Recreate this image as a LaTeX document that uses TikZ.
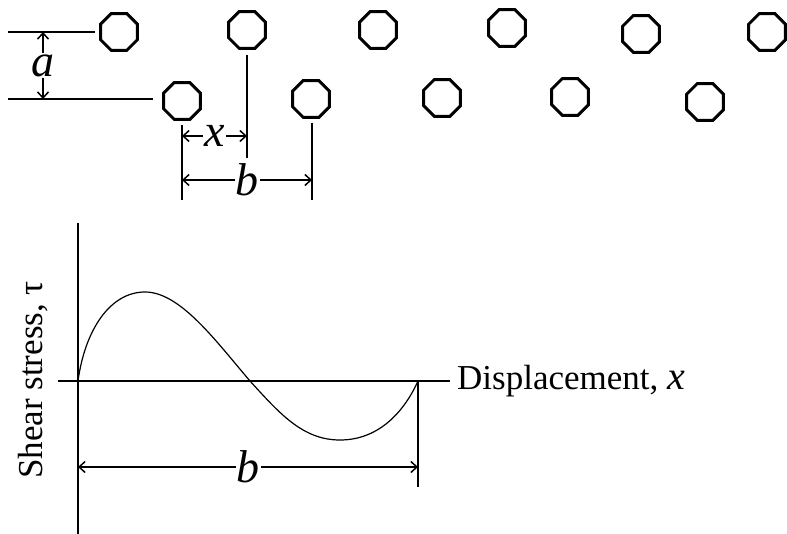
\documentclass[tikz,border=0pt]{standalone}
\usepackage{fontspec}
\setmainfont{Liberation Serif}
\usetikzlibrary{shapes.geometric,arrows.meta}
\begin{document}
\begin{tikzpicture}[x=1pt,y=-1pt,
  oct/.style={regular polygon, regular polygon sides=8, minimum size=40pt, inner sep=0pt, draw, line width=3pt},
  ln/.style={line width=1.5pt},
  dim/.style={line width=1.5pt, {Straight Barb[length=6pt,width=11pt]}-{Straight Barb[length=6pt,width=11pt]}},
  lbl/.style={fill=white, inner sep=1pt, font=\fontsize{46}{50}\selectfont\itshape},
  txt/.style={font=\fontsize{35}{40}\selectfont}]
\useasboundingbox (0,0) rectangle (787,534);
% atoms, top row
\node[oct] (t1) at (119,32) {};
\node[oct] (t2) at (247,30) {};
\node[oct] (t3) at (378,30) {};
\node[oct] (t4) at (507,28) {};
\node[oct] (t5) at (641,34) {};
\node[oct] (t6) at (767,32) {};
% atoms, bottom row
\node[oct] (b1) at (182,101) {};
\node[oct] (b2) at (311,99) {};
\node[oct] (b3) at (442,98) {};
\node[oct] (b4) at (570,97) {};
\node[oct] (b5) at (705,102) {};
% reference lines
\coordinate (la1) at (8,32);   \coordinate (la2) at (95,32);
\coordinate (lb1) at (8,99);   \coordinate (lb2) at (153,99);
\draw[ln] (la1) -- (la2);
\draw[ln] (lb1) -- (lb2);
\coordinate (a1) at (43,32); \coordinate (a2) at (43,99);
\draw[dim] (a1) -- (a2) node[midway,lbl] {a};
% extension lines
\coordinate (v1a) at (247,55);  \coordinate (v1b) at (247,158);
\coordinate (v2a) at (182,125); \coordinate (v2b) at (182,200);
\coordinate (v3a) at (312,123); \coordinate (v3b) at (312,200);
\draw[ln] (v1a) -- (v1b);
\draw[ln] (v2a) -- (v2b);
\draw[ln] (v3a) -- (v3b);
\coordinate (x1) at (182,136); \coordinate (x2) at (247,136);
\draw[dim] (x1) -- (x2) node[midway,lbl] {x};
\coordinate (bb1) at (182,180); \coordinate (bb2) at (312,180);
\draw[dim] (bb1) -- (bb2) node[midway,lbl] {b};
% plot axes
\coordinate (ya) at (78,223); \coordinate (yb) at (78,534);
\coordinate (xa) at (58,381); \coordinate (xb) at (450,381);
\draw[ln] (ya) -- (yb);
\draw[ln] (xa) -- (xb);
\node[txt, anchor=base west, inner sep=0pt] (xl) at (457,390) {Displacement, {\fontsize{40}{44}\selectfont\itshape x}};
\node[txt, rotate=90, anchor=base, inner sep=0pt] (yl) at (42,380) {Shear stress, τ};
% curve
\coordinate (c0) at (78,381);
\coordinate (c1) at (145,292);
\coordinate (c2) at (250,381);
\coordinate (c3) at (340,440);
\coordinate (c4) at (418,381);
\draw[line width=1.2pt] (c0) .. controls (85,330) and (110,292) .. (c1)
  .. controls (180,292) and (215,340) .. (c2)
  .. controls (280,414) and (303,440) .. (c3)
  .. controls (380,440) and (405,410) .. (c4);
\coordinate (e1) at (418,487);
\draw[ln] (c4) -- (e1);
\coordinate (p1) at (78,467); \coordinate (p2) at (418,467);
\draw[dim] (p1) -- (p2) node[midway,lbl] {b};
\end{tikzpicture}
\end{document}
